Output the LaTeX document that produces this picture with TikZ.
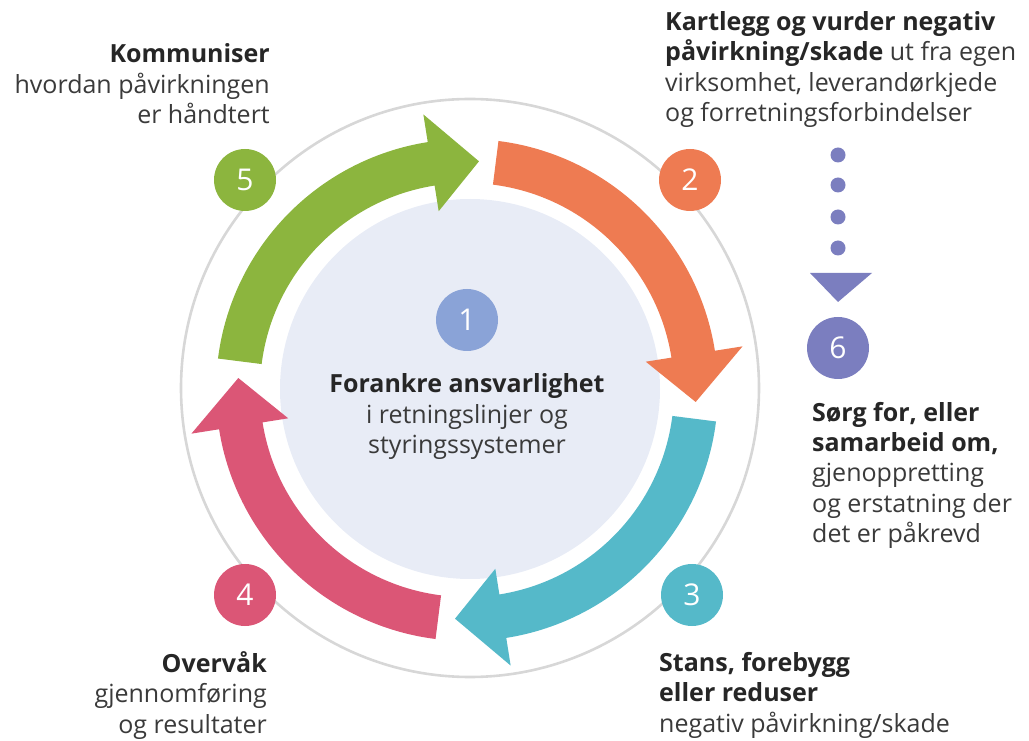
\documentclass[tikz,border=0pt]{standalone}
\usepackage{fontspec}
\setmainfont{Open Sans}
\definecolor{cgreen}{HTML}{8CB53E}
\definecolor{corange}{HTML}{EE7B52}
\definecolor{ccyan}{HTML}{55B9C9}
\definecolor{cpink}{HTML}{DB5676}
\definecolor{cblue}{HTML}{8AA3D7}
\definecolor{cpurple}{HTML}{7B7EBF}
\definecolor{cring}{HTML}{D7D7D7}
\definecolor{cinner}{HTML}{E8ECF6}
\definecolor{ctext}{HTML}{3A3A3A}
\definecolor{cbold}{HTML}{262626}
\tikzset{
  badge/.style={circle, fill=#1, minimum size=62pt, inner sep=0pt, text=white,
    font=\fontsize{30}{32}\selectfont},
  label/.style={inner sep=0pt, text=ctext, font=\fontsize{25}{30.5}\selectfont},
  dotmark/.style={circle, fill=cpurple, minimum size=15pt, inner sep=0pt},
}
\newcommand{\bt}[1]{{\bfseries\color{cbold}#1}}
\newcommand{\ringarrow}[2]{%
  % #1 colour, #2 reference angle
  \fill[#1] ({#2-7.2}:251) arc[start angle={#2-7.2}, end angle={#2-81}, radius=251]
    -- ({#2-81}:279) -- ({#2-93}:229) -- ({#2-81}:181) -- ({#2-81}:207)
    arc[start angle={#2-81}, end angle={#2-7.2}, radius=207] -- cycle;}
\begin{document}
\begin{tikzpicture}[x=1pt,y=1pt]
\useasboundingbox (0,0) rectangle (1029,740);
% outer ring and inner disc
\draw[cring, line width=2.6pt] (470,352) circle[radius=289];
\fill[cinner] (470,351) circle[radius=190];
% arrows
\begin{scope}[shift={(467,350)}]
  \ringarrow{cgreen}{180}
  \ringarrow{corange}{90}
  \ringarrow{ccyan}{0}
  \ringarrow{cpink}{-90}
\end{scope}
% badges
\node[badge=cblue] (b1) at (467,420) {1};
\node[badge=corange] (b2) at (690,560) {2};
\node[badge=ccyan] (b3) at (692,145) {3};
\node[badge=cpink] (b4) at (245,145) {4};
\node[badge=cgreen] (b5) at (245,560) {5};
\node[badge=cpurple] (b6) at (838,392) {6};
% dotted pointer to 6
\node[dotmark] (d1) at (838,585) {};
\node[dotmark] (d2) at (838,555) {};
\node[dotmark] (d3) at (838,523) {};
\node[dotmark] (d4) at (838,492) {};
\fill[cpurple] (810,467) -- (872,467) -- (838,438) -- cycle;
% texts (anchor = baseline of last line)
\node[label, anchor=base west, align=left] (t2) at (665,618)
  {\bt{Kartlegg og vurder negativ}\\\bt{påvirkning/skade} ut fra egen\\virksomhet, leverandørkjede\\og forretningsforbindelser};
\node[label, anchor=base east, align=right] (t5) at (270,616)
  {\bt{Kommuniser}\\hvordan påvirkningen\\er håndtert};
\node[label, anchor=base west, align=left] (t6) at (812,197)
  {\bt{Sørg for, eller}\\\bt{samarbeid om,}\\gjenoppretting\\og erstatning der\\det er påkrevd};
\node[label, anchor=base east, align=right] (t4) at (267,7)
  {\bt{Overvåk}\\gjennomføring\\og resultater};
\node[label, anchor=base west, align=left] (t3) at (659,8)
  {\bt{Stans, forebygg}\\\bt{eller reduser}\\negativ påvirkning/skade};
\node[label, anchor=base, align=center] (t1) at (467,286)
  {\bt{Forankre ansvarlighet}\\i retningslinjer og\\styringssystemer};
\end{tikzpicture}
\end{document}
